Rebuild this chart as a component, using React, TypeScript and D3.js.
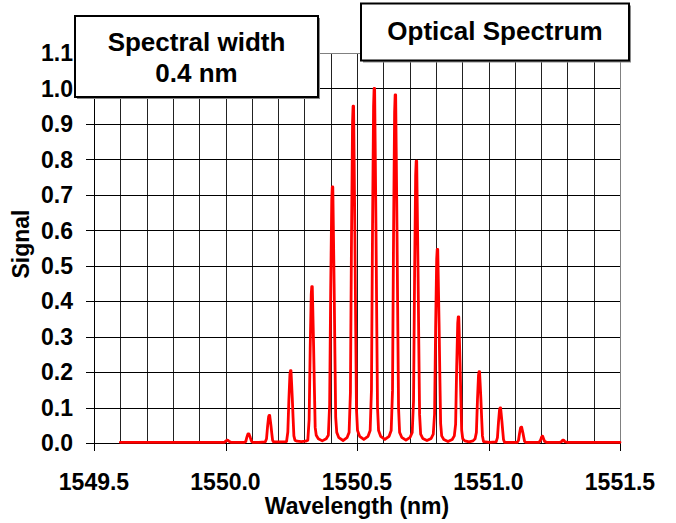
import React from "react";
import * as d3 from "d3";

// ---- data ----
const spectrum: [number, number][] = [
  [1549.6, 0.002], [1549.8, 0.002], [1549.985, 0.002],
  [1549.995, 0.002], [1550.001, 0.005], [1550.005, 0.008], [1550.009, 0.008], [1550.013, 0.005], [1550.02, 0.002],
  [1550.047, 0.002],
  [1550.072, 0.002], [1550.077, 0.004], [1550.081, 0.016], [1550.085, 0.025], [1550.087, 0.026], [1550.089, 0.026], [1550.091, 0.022], [1550.094, 0.016], [1550.097, 0.009], [1550.1, 0.004], [1550.104, 0.002],
  [1550.127, 0.002],
  [1550.151, 0.003], [1550.156, 0.012], [1550.16, 0.047], [1550.164, 0.074], [1550.166, 0.078], [1550.168, 0.078], [1550.17, 0.066], [1550.173, 0.048], [1550.176, 0.027], [1550.179, 0.008], [1550.183, 0.003],
  [1550.207, 0.003],
  [1550.232, 0.004], [1550.237, 0.031], [1550.241, 0.122], [1550.245, 0.194], [1550.247, 0.204], [1550.249, 0.204], [1550.251, 0.173], [1550.254, 0.126], [1550.257, 0.071], [1550.26, 0.02], [1550.264, 0.008],
  [1550.272, 0.005], [1550.288, 0.004], [1550.305, 0.005],
  [1550.313, 0.008], [1550.318, 0.066], [1550.322, 0.265], [1550.326, 0.419], [1550.328, 0.441], [1550.33, 0.441], [1550.332, 0.375], [1550.335, 0.273], [1550.338, 0.154], [1550.341, 0.044], [1550.345, 0.022],
  [1550.353, 0.012], [1550.368, 0.006], [1550.383, 0.012],
  [1550.391, 0.022], [1550.396, 0.108], [1550.4, 0.433], [1550.404, 0.686], [1550.406, 0.722], [1550.408, 0.722], [1550.41, 0.614], [1550.413, 0.448], [1550.416, 0.253], [1550.419, 0.072], [1550.423, 0.03],
  [1550.431, 0.015], [1550.447, 0.007], [1550.462, 0.015],
  [1550.47, 0.03], [1550.475, 0.143], [1550.479, 0.57], [1550.483, 0.903], [1550.485, 0.95], [1550.487, 0.95], [1550.489, 0.808], [1550.492, 0.589], [1550.495, 0.333], [1550.498, 0.095], [1550.502, 0.035],
  [1550.51, 0.019], [1550.526, 0.01], [1550.542, 0.019],
  [1550.55, 0.035], [1550.555, 0.15], [1550.559, 0.6], [1550.563, 0.95], [1550.565, 1.0], [1550.567, 1.0], [1550.569, 0.85], [1550.572, 0.62], [1550.575, 0.35], [1550.578, 0.1], [1550.582, 0.035],
  [1550.59, 0.019], [1550.606, 0.01], [1550.622, 0.019],
  [1550.63, 0.035], [1550.635, 0.147], [1550.639, 0.589], [1550.643, 0.933], [1550.645, 0.982], [1550.647, 0.982], [1550.649, 0.835], [1550.652, 0.609], [1550.655, 0.344], [1550.658, 0.098], [1550.662, 0.03],
  [1550.67, 0.016], [1550.686, 0.008], [1550.702, 0.016],
  [1550.71, 0.03], [1550.715, 0.119], [1550.719, 0.477], [1550.723, 0.755], [1550.725, 0.795], [1550.727, 0.795], [1550.729, 0.676], [1550.732, 0.493], [1550.735, 0.278], [1550.738, 0.08], [1550.742, 0.025],
  [1550.75, 0.013], [1550.766, 0.007], [1550.782, 0.013],
  [1550.79, 0.025], [1550.795, 0.082], [1550.799, 0.328], [1550.803, 0.519], [1550.805, 0.546], [1550.807, 0.546], [1550.809, 0.464], [1550.812, 0.339], [1550.815, 0.191], [1550.818, 0.055], [1550.822, 0.02],
  [1550.83, 0.01], [1550.846, 0.004], [1550.862, 0.01],
  [1550.87, 0.02], [1550.875, 0.053], [1550.879, 0.214], [1550.883, 0.338], [1550.885, 0.356], [1550.887, 0.356], [1550.889, 0.303], [1550.892, 0.221], [1550.895, 0.125], [1550.898, 0.036], [1550.902, 0.012],
  [1550.91, 0.006], [1550.926, 0.003], [1550.941, 0.006],
  [1550.949, 0.012], [1550.954, 0.03], [1550.958, 0.121], [1550.962, 0.191], [1550.964, 0.201], [1550.966, 0.201], [1550.968, 0.171], [1550.971, 0.125], [1550.974, 0.07], [1550.977, 0.02], [1550.981, 0.004],
  [1551.005, 0.002],
  [1551.029, 0.003], [1551.034, 0.015], [1551.038, 0.059], [1551.042, 0.094], [1551.044, 0.099], [1551.046, 0.099], [1551.048, 0.084], [1551.051, 0.061], [1551.054, 0.035], [1551.057, 0.01], [1551.061, 0.002],
  [1551.085, 0.002],
  [1551.109, 0.002], [1551.114, 0.007], [1551.118, 0.027], [1551.122, 0.043], [1551.124, 0.045], [1551.126, 0.045], [1551.128, 0.038], [1551.131, 0.028], [1551.134, 0.016], [1551.137, 0.005], [1551.141, 0.002],
  [1551.165, 0.002],
  [1551.192, 0.002], [1551.198, 0.008], [1551.202, 0.017], [1551.204, 0.019], [1551.206, 0.019], [1551.209, 0.013], [1551.213, 0.005], [1551.22, 0.002],
  [1551.272, 0.002], [1551.278, 0.004], [1551.282, 0.008], [1551.286, 0.008], [1551.29, 0.004], [1551.298, 0.002],
  [1551.4, 0.002], [1551.5, 0.002],
];

const xTickValues = [1549.5, 1550.0, 1550.5, 1551.0, 1551.5];
const xTickLabels = ["1549.5", "1550.0", "1550.5", "1551.0", "1551.5"];
const yTickValues = [0, 0.1, 0.2, 0.3, 0.4, 0.5, 0.6, 0.7, 0.8, 0.9, 1.0, 1.1];
const yTickLabels = ["0.0", "0.1", "0.2", "0.3", "0.4", "0.5", "0.6", "0.7", "0.8", "0.9", "1.0", "1.1"];
const xGridValues = [1549.6, 1549.7, 1549.8, 1549.9, 1550.0, 1550.1, 1550.2, 1550.3, 1550.4, 1550.5, 1550.6, 1550.7, 1550.8, 1550.9, 1551.0, 1551.1, 1551.2, 1551.3, 1551.4];
const yGridValues = [0.1, 0.2, 0.3, 0.4, 0.5, 0.6, 0.7, 0.8, 0.9, 1.0];
const xDomain: [number, number] = [1549.5, 1551.5];
const yDomain: [number, number] = [0, 1.1];
const xTitle = "Wavelength (nm)";
const yTitle = "Signal";
const boxLeftLines = ["Spectral width", "0.4 nm"];
const boxRightText = "Optical Spectrum";

const W = 676;
const H = 523;
const L = 94, R = 620, T = 53, B = 443;
const FONT = "'Liberation Sans', Arial, Helvetica, sans-serif";

export default function App() {
  const x = d3.scaleLinear().domain(xDomain).range([L, R]);
  const y = d3.scaleLinear().domain(yDomain).range([B, T]);
  const line = d3
    .line<[number, number]>()
    .x((d) => x(d[0]))
    .y((d) => y(d[1]))
    .curve(d3.curveLinear);

  return (
    <svg
      width={W}
      height={H}
      viewBox={`0 0 ${W} ${H}`}
      style={{ position: "absolute", left: 0, top: 0, background: "#fff" }}
      fontFamily={FONT}
      fontWeight="bold"
    >
      <rect x={0} y={0} width={W} height={H} fill="#fff" />
      {/* grid */}
      <g shapeRendering="crispEdges">
        {xGridValues.map((v) => (
          <line key={"gx" + v} x1={Math.round(x(v)) + 0.5} x2={Math.round(x(v)) + 0.5} y1={T} y2={B} stroke="#222" strokeWidth={1} />
        ))}
        {yGridValues.map((v) => (
          <line key={"gy" + v} x1={L} x2={R} y1={Math.round(y(v)) + 0.5} y2={Math.round(y(v)) + 0.5} stroke="#000" strokeWidth={1} />
        ))}
        {/* top & right border */}
        <line x1={L} x2={R} y1={T + 0.5} y2={T + 0.5} stroke="#808080" strokeWidth={1.5} />
        <line x1={R + 0.5} x2={R + 0.5} y1={T} y2={B} stroke="#808080" strokeWidth={1.5} />
        {/* axes */}
        <line x1={L + 0.5} x2={L + 0.5} y1={T} y2={B} stroke="#000" strokeWidth={1} />
        <line x1={L} x2={R} y1={B + 0.5} y2={B + 0.5} stroke="#000" strokeWidth={1} />
        {yTickValues.map((v) => (
          <line key={"ty" + v} x1={L - 8} x2={L} y1={Math.round(y(v)) + 0.5} y2={Math.round(y(v)) + 0.5} stroke="#000" strokeWidth={1} />
        ))}
        {xTickValues.map((v) => (
          <line key={"tx" + v} x1={Math.round(x(v)) + 0.5} x2={Math.round(x(v)) + 0.5} y1={B} y2={B + 8} stroke="#000" strokeWidth={1} />
        ))}
      </g>

      {/* spectrum */}
      <path d={line(spectrum) || ""} fill="none" stroke="#ff0000" strokeWidth={2.8} strokeLinejoin="round" strokeLinecap="round" />

      {/* tick labels */}
      {yTickValues.map((v, i) => (
        <text key={"ly" + v} x={73} y={y(v)} dy="0.36em" textAnchor="end" fontSize={23} fill="#000">
          {yTickLabels[i]}
        </text>
      ))}
      {xTickValues.map((v, i) => (
        <text key={"lx" + v} x={x(v)} y={489.5} textAnchor="middle" fontSize={23} fill="#000">
          {xTickLabels[i]}
        </text>
      ))}

      {/* axis titles */}
      <text x={(L + R) / 2} y={514} textAnchor="middle" fontSize={23} fill="#000">
        {xTitle}
      </text>
      <text transform="translate(29,244) rotate(-90)" textAnchor="middle" fontSize={23} fill="#000">
        {yTitle}
      </text>

      {/* annotation boxes */}
      <rect x={77} y={18} width={243} height={81} fill="#8a8a8a" />
      <rect x={75} y={16} width={243} height={81} fill="#fff" stroke="#000" strokeWidth={2} />
      <text x={196.5} y={50.5} textAnchor="middle" fontSize={26} fill="#000">
        {boxLeftLines[0]}
      </text>
      <text x={196.5} y={81.5} textAnchor="middle" fontSize={26} fill="#000">
        {boxLeftLines[1]}
      </text>

      <rect x={363} y={5.5} width={268} height={57} fill="#8a8a8a" />
      <rect x={361} y={3.5} width={268} height={57} fill="#fff" stroke="#000" strokeWidth={2} />
      <text x={495} y={40} textAnchor="middle" fontSize={26} fill="#000">
        {boxRightText}
      </text>
    </svg>
  );
}
